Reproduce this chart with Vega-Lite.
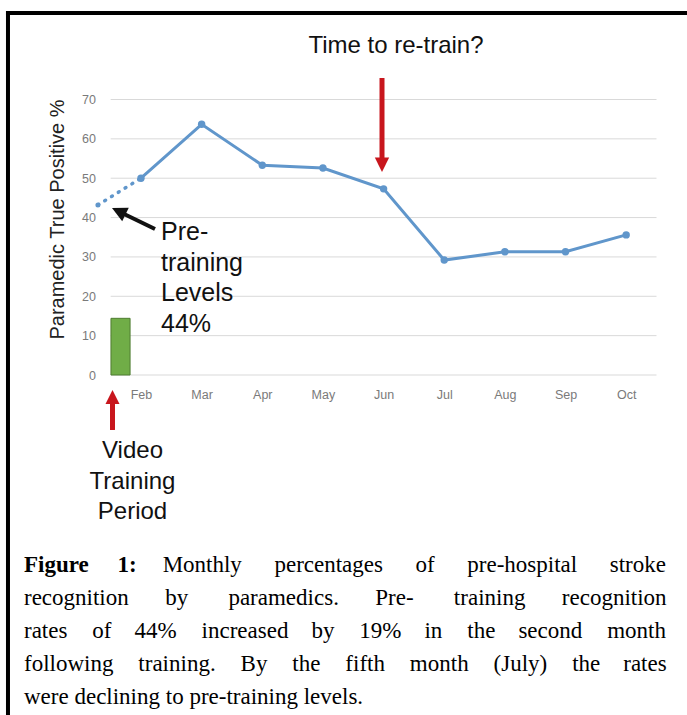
{
  "$schema": "https://vega.github.io/schema/vega-lite/v6.json",
  "width": 561,
  "height": 275.5,
  "autosize": {"type": "none"},
  "padding": {"left": 95.5, "top": 99.5, "right": 30.5, "bottom": 340},
  "background": "white",
  "config": {
    "view": {"stroke": null},
    "font": "Liberation Sans",
    "axis": {"labelOverlap": false, "domain": false, "ticks": false, "grid": false, "labelFontSize": 12.5, "labelColor": "#7a7a7a", "labelFlush": false},
    "axisY": {"labelPadding": 0, "tickCount": 8, "labelOverlap": false},
    "axisX": {"labelPadding": 13, "tickCount": 9, "labelOverlap": false}
  },
  "datasets": {
    "monthly": [
      {"month": 2, "value": 50},
      {"month": 3, "value": 63.7},
      {"month": 4, "value": 53.3},
      {"month": 5, "value": 52.6},
      {"month": 6, "value": 47.3},
      {"month": 7, "value": 29.2},
      {"month": 8, "value": 31.3},
      {"month": 9, "value": 31.3},
      {"month": 10, "value": 35.6}
    ],
    "pre": [{"month": 1.29, "value": 43.2}],
    "dotted": [{"month": 1.29, "value": 43.2}, {"month": 2, "value": 50}],
    "training": [{"value": 14.4}],
    "grid": [{"g": 0}, {"g": 10}, {"g": 20}, {"g": 30}, {"g": 40}, {"g": 50}, {"g": 60}, {"g": 70}],
    "one": [{}]
  },
  "layer": [
    {
      "data": {"name": "grid"},
      "mark": {"type": "rule", "color": "#d9d9d9", "strokeWidth": 1},
      "encoding": {
        "y": {"field": "g", "type": "quantitative", "scale": {"domain": [0, 70], "nice": false, "zero": false},
          "axis": {"values": [0, 10, 20, 30, 40, 50, 60, 70], "labelOverlap": false,
            "title": "Paramedic True Positive %", "titleFontSize": 20, "titleFontWeight": "normal", "titleColor": "#222222",
            "titleX": -38.5, "titleY": 119.5, "titleAngle": -90, "titleBaseline": "middle", "titleAlign": "center"}},
        "x": {"datum": 1.5, "type": "quantitative", "scale": {"domain": [1.25, 10.5], "nice": false, "zero": false},
          "axis": {"values": [2, 3, 4, 5, 6, 7, 8, 9, 10], "labelOverlap": false,
            "labelExpr": "['','','Feb','Mar','Apr','May','Jun','Jul','Aug','Sep','Oct'][datum.value]", "title": ""}},
        "x2": {"datum": 10.5}
      }
    },
    {
      "data": {"name": "training"},
      "mark": {"type": "rect", "fill": "#70ad47", "stroke": "#4f7c32", "strokeWidth": 1},
      "encoding": {
        "x": {"datum": 1.505, "type": "quantitative"},
        "x2": {"datum": 1.82},
        "y": {"field": "value", "type": "quantitative"},
        "y2": {"datum": 0}
      }
    },
    {
      "data": {"name": "dotted"},
      "mark": {"type": "line", "color": "#6096cb", "strokeWidth": 3.5, "strokeDash": [1, 7], "strokeCap": "round"},
      "encoding": {
        "x": {"field": "month", "type": "quantitative"},
        "y": {"field": "value", "type": "quantitative"}
      }
    },
    {
      "data": {"name": "monthly"},
      "mark": {"type": "line", "color": "#6096cb", "strokeWidth": 3, "point": {"filled": true, "size": 55, "color": "#6096cb"}},
      "encoding": {
        "x": {"field": "month", "type": "quantitative"},
        "y": {"field": "value", "type": "quantitative"}
      }
    },
    {
      "data": {"name": "pre"},
      "mark": {"type": "point", "filled": true, "size": 25, "color": "#6096cb", "opacity": 1},
      "encoding": {
        "x": {"field": "month", "type": "quantitative"},
        "y": {"field": "value", "type": "quantitative"}
      }
    },
    {
      "data": {"name": "one"},
      "mark": {"type": "rule", "color": "#c8161d", "strokeWidth": 5},
      "encoding": {
        "x": {"datum": 5.974, "type": "quantitative"},
        "y": {"datum": 75.46, "type": "quantitative"},
        "y2": {"datum": 55.1}
      }
    },
    {
      "data": {"name": "one"},
      "mark": {"type": "point", "shape": "M0,0L-1,-2L1,-2Z", "size": 207, "filled": true, "color": "#c8161d", "opacity": 1, "strokeWidth": 0},
      "encoding": {
        "x": {"datum": 5.974, "type": "quantitative"},
        "y": {"datum": 51.58, "type": "quantitative"}
      }
    },
    {
      "data": {"name": "one"},
      "mark": {"type": "rule", "color": "#111111", "strokeWidth": 4},
      "encoding": {
        "x": {"datum": 2.231, "type": "quantitative"},
        "y": {"datum": 37.1, "type": "quantitative"},
        "x2": {"datum": 1.687},
        "y2": {"datum": 41.16}
      }
    },
    {
      "data": {"name": "one"},
      "mark": {"type": "point", "shape": "M0,0L-1,2L1,2Z", "size": 225, "angle": 296, "filled": true, "color": "#111111", "opacity": 1, "strokeWidth": 0},
      "encoding": {
        "x": {"datum": 1.522, "type": "quantitative"},
        "y": {"datum": 42.43, "type": "quantitative"}
      }
    },
    {
      "data": {"name": "one"},
      "mark": {"type": "text", "text": "Pre-\ntraining\nLevels\n44%", "lineBreak": "\n", "lineHeight": 30.5, "align": "left", "baseline": "alphabetic", "fontSize": 25, "color": "#111111"},
      "encoding": {
        "x": {"datum": 2.33, "type": "quantitative"},
        "y": {"datum": 34.3, "type": "quantitative"}
      }
    },
    {
      "data": {"name": "one"},
      "mark": {"type": "rule", "color": "#c8161d", "strokeWidth": 5},
      "encoding": {
        "x": {"datum": 1.53, "type": "quantitative"},
        "y": {"datum": -6.86, "type": "quantitative"},
        "y2": {"datum": -13.97}
      }
    },
    {
      "data": {"name": "one"},
      "mark": {"type": "point", "shape": "M0,0L-1,2L1,2Z", "size": 196, "filled": true, "color": "#c8161d", "opacity": 1, "strokeWidth": 0},
      "encoding": {
        "x": {"datum": 1.53, "type": "quantitative"},
        "y": {"datum": -3.81, "type": "quantitative"}
      }
    },
    {
      "data": {"name": "one"},
      "mark": {"type": "text", "text": "Video\nTraining\nPeriod", "lineBreak": "\n", "lineHeight": 30.5, "align": "center", "baseline": "alphabetic", "fontSize": 24, "color": "#111111"},
      "encoding": {
        "x": {"datum": 1.86, "type": "quantitative"},
        "y": {"datum": -21.1, "type": "quantitative"}
      }
    },
    {
      "data": {"name": "one"},
      "mark": {"type": "text", "text": "Time to re-train?", "align": "center", "baseline": "alphabetic", "fontSize": 24, "color": "#111111"},
      "encoding": {
        "x": {"datum": 6.204, "type": "quantitative"},
        "y": {"datum": 81.8, "type": "quantitative"}
      }
    },
    {
      "data": {"name": "one"},
      "mark": {"type": "text", "text": "Figure \u20031:", "align": "left", "baseline": "alphabetic", "font": "Liberation Serif", "fontWeight": "bold", "fontSize": 23, "color": "#000000"},
      "encoding": {
        "x": {"datum": 0.0709, "type": "quantitative"},
        "y": {"datum": -50.05, "type": "quantitative"}
      }
    },
    {
      "data": {"name": "one"},
      "mark": {"type": "text", "text": "Monthly \u2003\u2006percentages \u2003\u2006of \u2003\u2006pre-hospital \u2003\u2006stroke", "align": "right", "baseline": "alphabetic", "font": "Liberation Serif", "fontSize": 23, "color": "#000000"},
      "encoding": {
        "x": {"datum": 10.656, "type": "quantitative"},
        "y": {"datum": -50.05, "type": "quantitative"}
      }
    },
    {
      "data": {"name": "one"},
      "mark": {"type": "text", "text": "recognition \u2003\u2004by \u2003\u2002paramedics. \u2003\u2004Pre- \u2003\u2002training \u2003\u2004recognition\nrates \u2002\u2004of \u2002\u200544% \u2002\u2004increased \u2002\u2005by \u2002\u200419% \u2002\u2005in \u2002\u2004the \u2002\u2005second \u2002\u2004month\nfollowing \u2002\u2004training. \u2002\u2004By \u2002\u2004the \u2002\u2004fifth \u2002\u2004month \u2002\u2004(July) \u2002\u2004the \u2002\u2005rates\nwere declining to pre-training levels.", "lineBreak": "\n", "lineHeight": 32.8, "align": "left", "baseline": "alphabetic", "font": "Liberation Serif", "fontSize": 23, "color": "#000000"},
      "encoding": {
        "x": {"datum": 0.0709, "type": "quantitative"},
        "y": {"datum": -58.5, "type": "quantitative"}
      }
    },
    {
      "data": {"name": "one"},
      "mark": {"type": "rule", "color": "#000000", "strokeWidth": 4},
      "encoding": {
        "x": {"datum": -0.193, "type": "quantitative"},
        "y": {"datum": 92.49, "type": "quantitative"},
        "y2": {"datum": -90}
      }
    },
    {
      "data": {"name": "one"},
      "mark": {"type": "rule", "color": "#000000", "strokeWidth": 4},
      "encoding": {
        "x": {"datum": -0.226, "type": "quantitative"},
        "x2": {"datum": 11.2},
        "y": {"datum": 91.98, "type": "quantitative"}
      }
    }
  ]
}
